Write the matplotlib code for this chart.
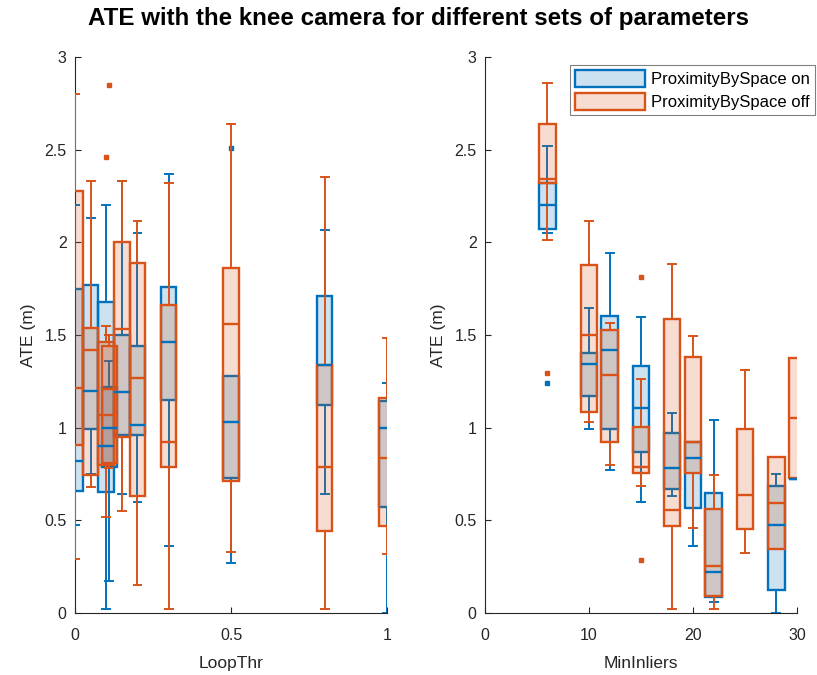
import matplotlib
matplotlib.use("Agg")
import matplotlib.pyplot as plt
from matplotlib.colors import to_rgba
from matplotlib.patches import Patch

plt.rcParams["font.family"] = ["Liberation Sans", "DejaVu Sans"]

BLUE = "#0072BD"
ORANGE = "#D95319"
AXIS_COLOR = "#262626"

# box stats per parameter value: (low whisker, q1, median, q3, high whisker)
loop_x = [0.0, 0.05, 0.10, 0.11, 0.15, 0.20, 0.30, 0.50, 0.80, 1.00]
loop_on = [
    (0.475, 0.66, 0.82, 1.75, 2.20),
    (0.75, 0.99, 1.20, 1.77, 2.13),
    (0.02, 0.655, 0.90, 1.68, 2.20),
    (0.17, 0.79, 1.00, 1.22, 1.36),
    (0.64, 0.96, 1.19, 1.50, 2.33),
    (0.60, 0.96, 1.015, 1.44, 2.05),
    (0.36, 1.15, 1.46, 1.76, 2.37),
    (0.27, 0.73, 1.03, 1.28, 1.28),
    (0.64, 1.12, 1.34, 1.71, 2.065),
    (0.00, 0.574, 1.00, 1.146, 1.24),
]
loop_on_out = [[], [], [], [], [], [], [], [2.51], [], []]
loop_off = [
    (0.29, 0.907, 1.213, 2.277, 2.80),
    (0.68, 0.745, 1.42, 1.535, 2.33),
    (0.52, 0.80, 1.07, 1.46, 1.55),
    (0.78, 0.81, 1.21, 1.44, 1.50),
    (0.55, 0.95, 1.53, 2.00, 2.33),
    (0.15, 0.63, 1.27, 1.89, 2.115),
    (0.02, 0.79, 0.925, 1.66, 2.32),
    (0.33, 0.71, 1.56, 1.86, 2.64),
    (0.02, 0.44, 0.79, 1.34, 2.35),
    (0.32, 0.47, 0.835, 1.16, 1.485),
]
loop_off_out = [[], [], [2.46], [2.85], [], [], [], [], [], []]

inl_x_on = [6, 10, 12, 15, 18, 20, 22, 28, 30]
inl_on = [
    (2.05, 2.07, 2.20, 2.32, 2.52),
    (0.99, 1.17, 1.345, 1.405, 1.645),
    (0.77, 0.99, 1.42, 1.60, 1.94),
    (0.60, 0.87, 1.105, 1.333, 1.596),
    (0.63, 0.67, 0.78, 0.973, 1.08),
    (0.36, 0.565, 0.835, 0.925, 0.925),
    (0.06, 0.085, 0.22, 0.65, 1.04),
    (0.00, 0.124, 0.475, 0.685, 0.748),
    (0.725, 0.725, 0.725, 0.725, 0.725),
]
inl_on_out = [[1.24], [], [], [], [], [], [], [], []]

inl_x_off = [6, 10, 12, 15, 18, 20, 22, 25, 28, 30]
inl_off = [
    (2.01, 2.32, 2.34, 2.64, 2.86),
    (1.03, 1.085, 1.50, 1.875, 2.115),
    (0.80, 0.925, 1.285, 1.527, 1.563),
    (0.685, 0.754, 0.79, 1.006, 1.263),
    (0.02, 0.47, 0.556, 1.585, 1.883),
    (0.457, 0.757, 0.925, 1.38, 1.497),
    (0.02, 0.092, 0.255, 0.56, 0.745),
    (0.326, 0.455, 0.637, 0.995, 1.311),
    (0.344, 0.344, 0.595, 0.84, 0.84),
    (0.727, 0.727, 1.05, 1.378, 1.378),
]
inl_off_out = [[1.297], [], [], [1.812, 0.286], [], [], [], [], [], []]

y_ticks = [0, 0.5, 1, 1.5, 2, 2.5, 3]
y_tick_labels = ["0", "0.5", "1", "1.5", "2", "2.5", "3"]


def to_stats(rows, outliers):
    return [
        dict(whislo=lo, q1=q1, med=med, q3=q3, whishi=hi, fliers=out)
        for (lo, q1, med, q3, hi), out in zip(rows, outliers)
    ]


def draw_boxes(ax, positions, rows, outliers, color, width):
    ax.bxp(
        to_stats(rows, outliers),
        positions=positions,
        widths=width,
        patch_artist=True,
        manage_ticks=False,
        zorder=3,
        boxprops=dict(facecolor=to_rgba(color, 0.2), edgecolor=color, linewidth=1.7),
        medianprops=dict(color=color, linewidth=1.7),
        whiskerprops=dict(color=color, linewidth=1.4),
        capprops=dict(color=color, linewidth=1.4),
        flierprops=dict(marker="s", markersize=2.6, markerfacecolor=color,
                        markeredgecolor=color, linestyle="none"),
    )


def style_axes(ax, xlim, xticks, xlabel):
    ax.set_xlim(*xlim)
    ax.set_ylim(0, 3)
    ax.set_xticks(xticks)
    ax.set_xticklabels([f"{t:g}" for t in xticks])
    ax.set_yticks(y_ticks)
    ax.set_yticklabels(y_tick_labels)
    ax.set_xlabel(xlabel, fontsize=12.5, color=AXIS_COLOR, labelpad=9)
    ax.set_ylabel("ATE (m)", fontsize=12.5, color=AXIS_COLOR, labelpad=6)
    for side in ("top", "right"):
        ax.spines[side].set_visible(False)
    for side in ("left", "bottom"):
        ax.spines[side].set_color(AXIS_COLOR)
        ax.spines[side].set_linewidth(0.8)
    ax.tick_params(direction="in", length=4, width=0.8, colors=AXIS_COLOR,
                   labelsize=11.5)
    ax.tick_params(axis="x", pad=11)
    ax.tick_params(axis="y", pad=6)


fig = plt.figure(figsize=(8.17, 6.75), dpi=100)
ax1 = fig.add_axes([0.0918, 0.0919, 0.3819, 0.8237])
ax2 = fig.add_axes([0.5936, 0.0919, 0.3819, 0.8237])

draw_boxes(ax1, loop_x, loop_on, loop_on_out, BLUE, 0.05)
draw_boxes(ax1, loop_x, loop_off, loop_off_out, ORANGE, 0.05)
style_axes(ax1, (0, 1), [0, 0.5, 1], "LoopThr")

draw_boxes(ax2, inl_x_on, inl_on, inl_on_out, BLUE, 1.6)
draw_boxes(ax2, inl_x_off, inl_off, inl_off_out, ORANGE, 1.6)
style_axes(ax2, (0, 30), [0, 10, 20, 30], "MinInliers")

handles = [
    Patch(facecolor=to_rgba(BLUE, 0.2), edgecolor=BLUE, linewidth=1.7, label="ProximityBySpace on"),
    Patch(facecolor=to_rgba(ORANGE, 0.2), edgecolor=ORANGE, linewidth=1.7, label="ProximityBySpace off"),
]
leg = ax2.legend(handles=handles, loc="upper right", bbox_to_anchor=(0.998, 0.903),
                 bbox_transform=fig.transFigure, fontsize=12, fancybox=False,
                 framealpha=1, edgecolor="#808080", borderaxespad=0,
                 handlelength=4.2, handleheight=1.15, handletextpad=0.4,
                 labelspacing=0.35, borderpad=0.3)
leg.get_frame().set_linewidth(0.8)
leg.set_zorder(5)

fig.suptitle("ATE with the knee camera for different sets of parameters",
             x=0.512, y=0.972, va="center", fontsize=17.4, fontweight="bold")

fig.savefig("out.png", dpi=100)
